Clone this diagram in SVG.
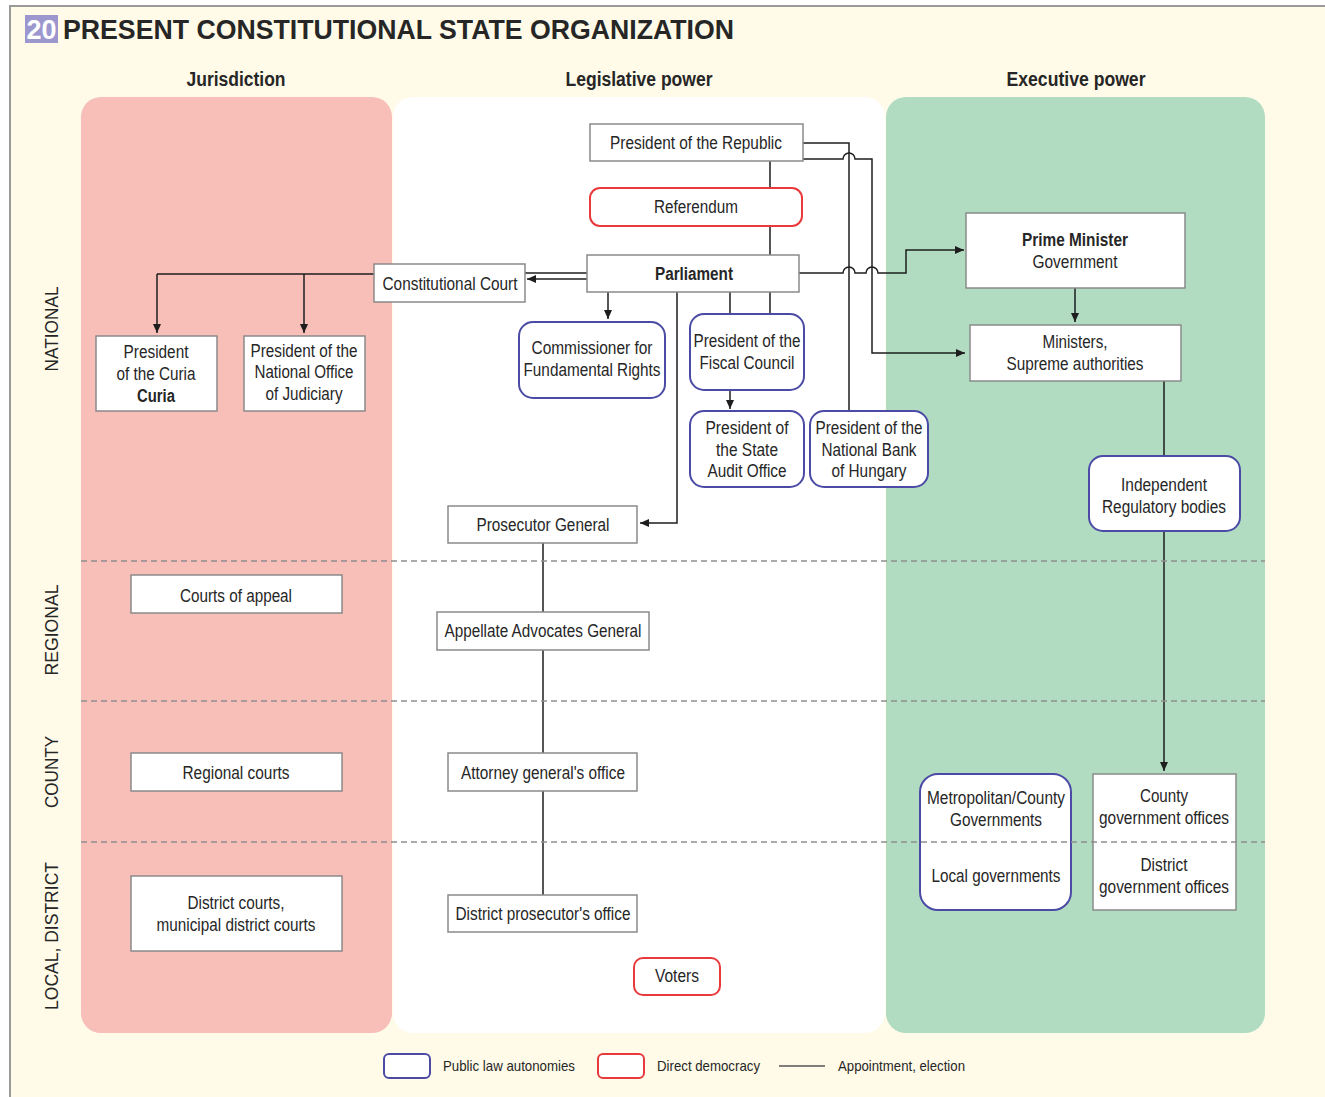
<svg xmlns="http://www.w3.org/2000/svg" width="1325" height="1097" viewBox="0 0 1325 1097">
<defs>
<style>
text{font-family:"Liberation Sans",Arial,sans-serif;fill:#262626;text-anchor:middle;font-size:17.5px}
.b{font-weight:bold}
.hd{font-size:20px;font-weight:bold}
.lg{font-size:15px;text-anchor:start}
.box{fill:#fff;stroke:#8a8a8a;stroke-width:1.5}
.pub{fill:#fff;stroke:#4b4ba6;stroke-width:2}
.dd{fill:#fff;stroke:#e83a3d;stroke-width:2}
.c{fill:none;stroke:#1e1e1e;stroke-width:1.5}
.dash{fill:none;stroke:#8f8f8f;stroke-width:1.5;stroke-dasharray:6 4}
</style>
<marker id="ar" markerWidth="9" markerHeight="8" refX="9" refY="4" orient="auto" markerUnits="userSpaceOnUse">
<path d="M0,0 L9,4 L0,8 z" fill="#1e1e1e"/>
</marker>
</defs>
<rect x="0" y="0" width="1325" height="1097" fill="#fff"/>
<rect x="10" y="6" width="1315" height="1091" fill="#fffbe8"/>
<path d="M10,1097 V6 H1325" fill="none" stroke="#9a9a9a" stroke-width="2"/>
<g id="title">
<rect x="25" y="15" width="33" height="28" fill="#9c98cf"/>
<text x="41.5" y="39" class="b" style="font-size:27px;fill:#fff" textLength="30" lengthAdjust="spacingAndGlyphs">20</text>
<text x="63" y="39" class="b" style="font-size:27px;text-anchor:start" textLength="671" lengthAdjust="spacingAndGlyphs">PRESENT CONSTITUTIONAL STATE ORGANIZATION</text>
</g>
<g id="panels">
<rect x="81" y="97" width="311" height="936" rx="20" fill="#f8beb8"/>
<rect x="393" y="97" width="492" height="936" rx="20" fill="#fff"/>
<rect x="886" y="97" width="379" height="936" rx="20" fill="#b2dcc1"/>
</g>
<g id="headers">
<text x="236" y="86" class="hd" textLength="99" lengthAdjust="spacingAndGlyphs">Jurisdiction</text>
<text x="639" y="86" class="hd" textLength="147" lengthAdjust="spacingAndGlyphs">Legislative power</text>
<text x="1076" y="86" class="hd" textLength="139" lengthAdjust="spacingAndGlyphs">Executive power</text>
</g>
<g id="levels" style="font-size:18px">
<text transform="translate(58,329) rotate(-90)" style="font-size:18px" textLength="85" lengthAdjust="spacingAndGlyphs">NATIONAL</text>
<text transform="translate(58,630) rotate(-90)" style="font-size:18px" textLength="91" lengthAdjust="spacingAndGlyphs">REGIONAL</text>
<text transform="translate(58,772) rotate(-90)" style="font-size:18px" textLength="72" lengthAdjust="spacingAndGlyphs">COUNTY</text>
<text transform="translate(58,936) rotate(-90)" style="font-size:18px" textLength="148" lengthAdjust="spacingAndGlyphs">LOCAL, DISTRICT</text>
</g>
<g id="connectors">
<path class="c" d="M770,161 V188 M770,226 V255"/>
<path class="c" d="M803,143 H849 V411"/>
<path class="c" marker-end="url(#ar)" d="M803,159 H843 A6,6 0 0 1 855,159 H872 V353 H965"/>
<path class="c" marker-end="url(#ar)" d="M799,273 H843 A6,6 0 0 1 855,273 H866 A6,6 0 0 1 878,273 H906 V250 H964"/>
<path class="c" d="M525,273 H587"/>
<path class="c" marker-end="url(#ar)" d="M587,279 H527"/>
<path class="c" d="M374,274 H157"/>
<path class="c" marker-end="url(#ar)" d="M157,274 V333"/>
<path class="c" marker-end="url(#ar)" d="M304,274 V333"/>
<path class="c" marker-end="url(#ar)" d="M608,292 V319"/>
<path class="c" marker-end="url(#ar)" d="M677,292 V523 H640"/>
<path class="c" d="M730,292 V314 M770,292 V314"/>
<path class="c" marker-end="url(#ar)" d="M730,390 V409"/>
<path class="c" marker-end="url(#ar)" d="M1075,288 V322"/>
<path class="c" d="M1164,381 V456"/>
<path class="c" marker-end="url(#ar)" d="M1164,531 V771"/>
<path class="c" d="M543,543 V612 M543,650 V753 M543,791 V895"/>
</g>
<g id="n-president-republic"><rect class="box" x="590" y="124" width="213" height="37"/><text x="696" y="149" textLength="172" lengthAdjust="spacingAndGlyphs">President of the Republic</text></g>
<g id="n-referendum"><rect class="dd" x="590" y="188" width="212" height="38" rx="10"/><text x="696" y="213" textLength="84" lengthAdjust="spacingAndGlyphs">Referendum</text></g>
<g id="n-parliament"><rect class="box" x="587" y="255" width="212" height="37"/><text x="694" y="280" class="b" textLength="78" lengthAdjust="spacingAndGlyphs">Parliament</text></g>
<g id="n-constitutional-court"><rect class="box" x="374" y="264" width="151" height="38"/><text x="450" y="290" textLength="135" lengthAdjust="spacingAndGlyphs">Constitutional Court</text></g>
<g id="n-curia"><rect class="box" x="96" y="336" width="121" height="75"/>
<text x="156" y="358" textLength="65" lengthAdjust="spacingAndGlyphs">President</text>
<text x="156" y="380" textLength="79" lengthAdjust="spacingAndGlyphs">of the Curia</text>
<text x="156" y="402" class="b" textLength="38" lengthAdjust="spacingAndGlyphs">Curia</text></g>
<g id="n-noj"><rect class="box" x="244" y="336" width="121" height="75"/>
<text x="304" y="357" textLength="107" lengthAdjust="spacingAndGlyphs">President of the</text>
<text x="304" y="378" textLength="99" lengthAdjust="spacingAndGlyphs">National Office</text>
<text x="304" y="400" textLength="77" lengthAdjust="spacingAndGlyphs">of Judiciary</text></g>
<g id="n-commissioner"><rect class="pub" x="519" y="322" width="146" height="76" rx="14"/>
<text x="592" y="354" textLength="121" lengthAdjust="spacingAndGlyphs">Commissioner for</text>
<text x="592" y="376" textLength="137" lengthAdjust="spacingAndGlyphs">Fundamental Rights</text></g>
<g id="n-fiscal"><rect class="pub" x="690" y="314" width="114" height="76" rx="14"/>
<text x="747" y="347" textLength="107" lengthAdjust="spacingAndGlyphs">President of the</text>
<text x="747" y="369" textLength="95" lengthAdjust="spacingAndGlyphs">Fiscal Council</text></g>
<g id="n-audit"><rect class="pub" x="690" y="411" width="114" height="76" rx="14"/>
<text x="747" y="434" textLength="83" lengthAdjust="spacingAndGlyphs">President of</text>
<text x="747" y="456" textLength="62" lengthAdjust="spacingAndGlyphs">the State</text>
<text x="747" y="477" textLength="79" lengthAdjust="spacingAndGlyphs">Audit Office</text></g>
<g id="n-bank"><rect class="pub" x="810" y="411" width="118" height="76" rx="14"/>
<text x="869" y="434" textLength="107" lengthAdjust="spacingAndGlyphs">President of the</text>
<text x="869" y="456" textLength="95" lengthAdjust="spacingAndGlyphs">National Bank</text>
<text x="869" y="477" textLength="75" lengthAdjust="spacingAndGlyphs">of Hungary</text></g>
<g id="n-pm"><rect class="box" x="966" y="213" width="219" height="75"/>
<text x="1075" y="246" class="b" textLength="106" lengthAdjust="spacingAndGlyphs">Prime Minister</text>
<text x="1075" y="268" textLength="85" lengthAdjust="spacingAndGlyphs">Government</text></g>
<g id="n-ministers"><rect class="box" x="970" y="325" width="211" height="56"/>
<text x="1075" y="348" textLength="65" lengthAdjust="spacingAndGlyphs">Ministers,</text>
<text x="1075" y="370" textLength="137" lengthAdjust="spacingAndGlyphs">Supreme authorities</text></g>
<g id="n-independent"><rect class="pub" x="1089" y="456" width="151" height="75" rx="14"/>
<text x="1164" y="491" textLength="86" lengthAdjust="spacingAndGlyphs">Independent</text>
<text x="1164" y="513" textLength="124" lengthAdjust="spacingAndGlyphs">Regulatory bodies</text></g>
<g id="n-prosecutor"><rect class="box" x="448" y="506" width="189" height="37"/><text x="543" y="531" textLength="133" lengthAdjust="spacingAndGlyphs">Prosecutor General</text></g>
<g id="n-courts-appeal"><rect class="box" x="131" y="575" width="211" height="38"/><text x="236" y="602" textLength="112" lengthAdjust="spacingAndGlyphs">Courts of appeal</text></g>
<g id="n-appellate"><rect class="box" x="437" y="612" width="212" height="38"/><text x="543" y="637" textLength="197" lengthAdjust="spacingAndGlyphs">Appellate Advocates General</text></g>
<g id="n-regional-courts"><rect class="box" x="131" y="753" width="211" height="38"/><text x="236" y="779" textLength="107" lengthAdjust="spacingAndGlyphs">Regional courts</text></g>
<g id="n-attorney"><rect class="box" x="448" y="753" width="189" height="38"/><text x="543" y="779" textLength="164" lengthAdjust="spacingAndGlyphs">Attorney general's office</text></g>
<g id="n-district-courts"><rect class="box" x="131" y="876" width="211" height="75"/>
<text x="236" y="909" textLength="97" lengthAdjust="spacingAndGlyphs">District courts,</text>
<text x="236" y="931" textLength="159" lengthAdjust="spacingAndGlyphs">municipal district courts</text></g>
<g id="n-district-prosecutor"><rect class="box" x="448" y="895" width="189" height="37"/><text x="543" y="920" textLength="175" lengthAdjust="spacingAndGlyphs">District prosecutor's office</text></g>
<g id="n-voters"><rect class="dd" x="634" y="958" width="86" height="37" rx="9"/><text x="677" y="982" textLength="44" lengthAdjust="spacingAndGlyphs">Voters</text></g>
<g id="n-local-gov"><rect class="pub" x="920" y="774" width="151" height="136" rx="18"/>
<text x="996" y="804" textLength="138" lengthAdjust="spacingAndGlyphs">Metropolitan/County</text>
<text x="996" y="826" textLength="92" lengthAdjust="spacingAndGlyphs">Governments</text>
<text x="996" y="882" textLength="129" lengthAdjust="spacingAndGlyphs">Local governments</text></g>
<g id="n-gov-offices"><rect class="box" x="1093" y="774" width="143" height="136"/>
<text x="1164" y="802" textLength="48" lengthAdjust="spacingAndGlyphs">County</text>
<text x="1164" y="824" textLength="130" lengthAdjust="spacingAndGlyphs">government offices</text>
<text x="1164" y="871" textLength="47" lengthAdjust="spacingAndGlyphs">District</text>
<text x="1164" y="893" textLength="130" lengthAdjust="spacingAndGlyphs">government offices</text></g>
<g id="levels-dividers">
<path class="dash" d="M81,561 H1265 M81,701 H1265 M81,842 H1265"/>
</g>
<g id="legend">
<rect class="pub" x="384" y="1054" width="46" height="24" rx="5"/>
<text x="443" y="1071" class="lg" textLength="132" lengthAdjust="spacingAndGlyphs">Public law autonomies</text>
<rect class="dd" x="598" y="1054" width="46" height="24" rx="5"/>
<text x="657" y="1071" class="lg" textLength="103" lengthAdjust="spacingAndGlyphs">Direct democracy</text>
<path d="M779,1066 H825" stroke="#555" stroke-width="1.5"/>
<text x="838" y="1071" class="lg" textLength="127" lengthAdjust="spacingAndGlyphs">Appointment, election</text>
</g>
</svg>
